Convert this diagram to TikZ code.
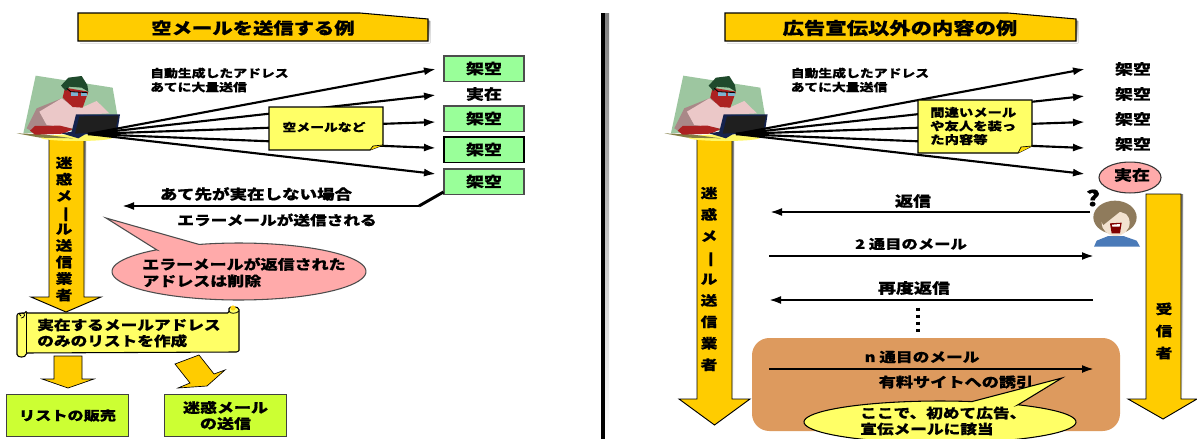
\documentclass[tikz,border=0pt]{standalone}
\usepackage{graphicx}
\usepackage{fontspec}
\setmainfont{Noto Sans CJK JP}[FakeStretch=1.25,BoldFeatures={FakeBold=0.5}]
\usetikzlibrary{arrows.meta}
\definecolor{gold}{HTML}{FFCC00}
\definecolor{shade}{HTML}{8A8A8A}
\definecolor{noteY}{HTML}{FFFF66}
\definecolor{pinkC}{HTML}{FFAAAA}
\definecolor{mintC}{HTML}{99FF99}
\definecolor{limeC}{HTML}{CCFF33}
\definecolor{brownC}{HTML}{DD9A5E}
\definecolor{personG}{HTML}{9DC6A0}
\definecolor{personD}{HTML}{A98888}
\definecolor{personP}{HTML}{EBC8C8}
\definecolor{personR}{HTML}{AC2222}
\definecolor{personH}{HTML}{1F4A2C}
\definecolor{personB}{HTML}{7FB2D0}
\definecolor{personN}{HTML}{14224E}
\definecolor{hairC}{HTML}{8F7B5C}
\definecolor{skinC}{HTML}{F2E2D0}
\definecolor{shirtC}{HTML}{4A7AB8}
\newcommand{\sz}[2][1.1]{\fontsize{#2pt}{#1\dimexpr #2pt\relax}\selectfont\bfseries}
\newcommand{\szl}[2]{\fontsize{#1pt}{#2pt}\selectfont\bfseries\lineskiplimit=-100pt}
\newcommand{\barV}{\rotatebox[origin=c]{-90}{ー}}
\newcommand{\drawperson}[1]{%
\begin{scope}[shift={#1},x=0.25pt,y=-0.25pt]
 \fill[personG] (77,32)--(308,68)--(322,150)--(320,190)--(40,205)--cycle;
 \fill[yellow!60!white] (200,218) ellipse [x radius=27pt,y radius=2.5pt];
 \fill[olive!60!black!80] (20,205)--(100,208)--(190,220)--(90,218)--cycle;
 \fill[personD] (50,190)--(80,130)--(155,100)--(190,120)--(170,190)--(75,205)--cycle;
 \fill[personP] (88,140)--(155,100)--(185,122)--(215,128)--(260,108)--(298,145)--(205,150)--(190,190)--(110,180)--cycle;
 \fill[personR] (60,197)--(75,183)--(150,182)--(190,192)--(160,206)--(75,209)--cycle;
 \fill[personR] (165,68)--(235,80)--(228,100)--(218,128)--(188,126)--(158,98)--cycle;
 \fill[personH] (153,62)--(175,38)--(215,33)--(232,60)--(235,80)--(215,68)--(178,65)--(168,78)--cycle;
 \fill[personB] (182,80) rectangle (205,92);
 \fill[personB] (212,82) rectangle (232,92);
 \draw[black,line width=.6pt] (170,70)--(182,80)--(232,83);
 \fill[personN] (155,205)--(185,200)--(198,148)--(330,148)--(322,200)--(225,208)--(205,220)--cycle;
 \fill[black!88] (208,154)--(325,152)--(316,197)--(230,204)--(195,206)--cycle;
\end{scope}}
\tikzset{
  outl/.style={draw=black,line width=.8pt},
  arrowfill/.style={fill=gold,draw=black,line width=.7pt},
  mail/.style={line width=1.6pt,-{Latex[length=9pt,width=6pt]}},
  lab/.style={inner sep=0pt,text=black},
  fakebox/.style={draw=black!70,line width=.8pt,fill=mintC,minimum width=60pt,minimum height=18.8pt,inner sep=0pt,font=\sz{10.8}},
  salebox/.style={draw=black!75,line width=.9pt,fill=limeC,minimum width=92pt,minimum height=32pt,inner sep=0pt,align=center},
  vert/.style={inner sep=0pt,align=center},
  leftlab/.style={lab,anchor=west,align=left},
}
\begin{document}
\begin{tikzpicture}[x=0.75pt,y=-0.75pt]
\useasboundingbox (0,0) rectangle (1197,439);
\clip (0,0) rectangle (1197,439);
\fill[white] (0,0) rectangle (1197,439);
% divider
\fill[black] (601,13) rectangle (605,439);
\fill[shade] (605,13) rectangle (609,439);
% titles
\fill[shade] (80,15)--(362,15)--(430,21)--(430,43)--(80,43)--cycle;
\draw[outl,fill=gold] (78,13)--(360,13)--(428,19)--(428,41)--(78,41)--cycle;
\node[lab,font=\sz{12.2}] (t1) at (253,28) {空メールを送信する例};
\fill[shade] (727,15)--(1010,15)--(1078,21)--(1078,43)--(727,43)--cycle;
\draw[outl,fill=gold] (725,13)--(1008,13)--(1076,19)--(1076,41)--(725,41)--cycle;
\node[lab,font=\sz{12.8}] (t2) at (900,28) {広告宣伝以外の内容の例};
% big arrows
\fill[shade] (51,139)--(86,139)--(86,299)--(51,299)--cycle;
\draw[arrowfill] (49,139)--(84,139)--(84,297)--(101,297)--(66,312)--(31,297)--(49,297)--cycle;
\fill[shade] (732,139) rectangle (734,399);
\draw[arrowfill] (697,139)--(732,139)--(732,399)--(750,399)--(714.5,425)--(679,399)--(697,399)--cycle;
\fill[shade] (1181,194) rectangle (1183,399);
\draw[arrowfill] (1146,194)--(1181,194)--(1181,399)--(1197,399)--(1163,419)--(1128,399)--(1146,399)--cycle;
% persons
\drawperson{(10,65)}
\drawperson{(657.6,65)}
\node[vert,font=\szl{10}{12.4}] (v1) at (64,229) {迷\\惑\\メ\\\barV\\ル\\送\\信\\業\\者};
\node[vert,font=\szl{10}{16.1}] (v2) at (709,279) {迷\\惑\\メ\\\barV\\ル\\送\\信\\業\\者};
\node[vert,font=\szl{10}{16.5}] (v3) at (1164,331) {受\\信\\者};
% left targets
\coordinate (o1) at (88,134);
\coordinate (l1) at (436,69);
\coordinate (l2) at (436,95);
\coordinate (l3) at (436,122);
\coordinate (l4) at (436,148);
\coordinate (l5) at (436,174);
\foreach \t in {l1,l2,l3,l4,l5} \draw[mail] (o1)--(\t);
\node[fakebox] (b1) at (484,68.5) {架空};
\node[lab,font=\sz{10.8}] (b2) at (484,94) {実在};
\node[fakebox] (b3) at (484,118.5) {架空};
\node[fakebox,draw=black] (b4) at (484,149.5) {架空};
\node[fakebox] (b5) at (484,181.5) {架空};
% note left
\draw[outl,fill=noteY] (269,107)--(383,107)--(383,145)--(370,150)--(269,150)--cycle;
\fill[gold!70!yellow] (383,145)--(373,146)--(370,150)--cycle;
\draw[black,line width=.5pt] (383,145)--(373,146)--(370,150);
\node[lab,font=\sz{8.3}] (n1) at (324,127) {空メールなど};
\node[leftlab,font=\szl{8.3}{10.5}] (a1) at (150,80) {自動生成したアドレス\\あてに大量送信};
% error arrow
\coordinate (etip) at (122,206);
\coordinate (ebend) at (419,206);
\draw[line width=2.2pt] (b5.west|-0,192)--(ebend);
\draw[mail] (ebend)--(etip);
\node[lab,font=\sz{10.5}] (e1) at (256,194) {あて先が実在しない場合};
\node[lab,font=\sz{10}] (e2) at (277,220) {エラーメールが送信される};
% pink callout
\draw[outl,draw=black!70,fill=pinkC] (106,218)--(157,250)
  -- plot[domain=-130.6:-468.3,samples=80] ({239+127*cos(\x)},{271.5+28.5*sin(\x)})--cycle;
\node[leftlab,font=\szl{10.2}{12.5}] (c1) at (142,272.5) {エラーメールが返信された\\アドレスは削除};
% scroll
\draw[outl,fill=noteY,rounded corners=1pt] (26,313)--(229,313)--(229,310)
  .. controls (229,306) and (239,306) .. (239,311)--(239,349)
  .. controls (239,351) and (237,352) .. (235,352)--(26,353)
  .. controls (26,358) and (17,358) .. (17,353)--(17,317)
  .. controls (17,313) and (20,313) .. (26,313)--cycle;
\draw[black,line width=.6pt] (26,313)--(26,353);
\draw[black,line width=.6pt] (21,318) .. controls (25,318) and (26,313) .. (22,313) .. controls (19,313) and (19,316) .. (21,316);
\draw[black,line width=.6pt] (229,311) .. controls (229,314) and (237,314) .. (239,311);
\fill[gold!80!noteY] (233,308) circle (2.6);
\node[leftlab,font=\szl{10}{12}] (s1) at (37,333) {実在するメールアドレス\\のみのリストを作成};
% small arrows
\draw[arrowfill,line width=.5pt] (54,356)--(82,356)--(82,379)--(94,379)--(68,388)--(42,379)--(54,379)--cycle;
\draw[arrowfill,line width=.5pt] (175,364)--(199,355)--(214,374)--(225,370)--(207,386)--(178,388)--(190,383)--cycle;
\node[salebox,font=\sz{9.7}] (p1) at (67.5,415.5) {リストの販売};
\node[salebox,font=\szl{10.2}{12}] (p2) at (225.5,415.5) {迷惑メール\\の送信};
% right side
\fill[brownC,rounded corners=13pt] (752,338) rectangle (1120,431);
\coordinate (o2) at (736,134);
\coordinate (r1) at (1085,69);
\coordinate (r2) at (1085,96);
\coordinate (r3) at (1085,122);
\coordinate (r4) at (1085,148);
\coordinate (r5) at (1085,174);
\foreach \t in {r1,r2,r3,r4,r5} \draw[mail] (o2)--(\t);
\node[lab,font=\sz{10.8}] (k1) at (1133,69) {架空};
\node[lab,font=\sz{10.8}] (k2) at (1133,94) {架空};
\node[lab,font=\sz{10.8}] (k3) at (1133,119) {架空};
\node[lab,font=\sz{10.8}] (k4) at (1133,144) {架空};
\draw[outl,draw=black!80,fill=pinkC] (1130,177.5) ellipse [x radius=23.25pt,y radius=11.6pt];
\node[lab,font=\sz{10.8}] (k5) at (1132,175) {実在};
\draw[outl,fill=noteY] (918,100)--(1032,100)--(1032,146)--(1018,153)--(918,153)--cycle;
\fill[gold!70!yellow] (1032,146)--(1021,147)--(1018,153)--cycle;
\draw[black,line width=.5pt] (1032,146)--(1021,147)--(1018,153);
\node[leftlab,font=\szl{8.6}{10.2}] (n2) at (930,126) {間違いメール\\や友人を装っ\\た内容等};
\node[leftlab,font=\szl{8.3}{10.5}] (a2) at (790.5,80) {自動生成したアドレス\\あてに大量送信};
% face
\begin{scope}[shift={(1070,180)},x=0.25pt,y=-0.25pt]
 \fill[shirtC] (72,200)--(80,182)--(115,168)--(160,168)--(200,182)--(210,200)--cycle;
 \fill[hairC] (135,112) ellipse [x radius=65*.25pt,y radius=50*.25pt];
 \fill[skinC] (137,128) ellipse [x radius=42*.25pt,y radius=40*.25pt];
 \fill[hairC] (80,100)--(120,78)--(170,85)--(190,110)--(150,95)--(125,115)--(100,135)--cycle;
 \fill[red!50!black] (120,130)--(155,128)--(150,160)--(125,160)--cycle;
 \fill[white] (126,134)--(150,132)--(149,140)--(127,140)--cycle;
\end{scope}
\coordinate (h1) at (1090,212);
\coordinate (h2) at (770,212);
\node[lab,font=\szl{16}{16}] (q) at (1093,198) {?};
\draw[mail] (h1)--(h2);
\node[lab,font=\sz{10.8}] (x1) at (913,201) {返信};
\coordinate (s2a) at (769,256);
\coordinate (s2b) at (1094,256);
\draw[mail] (s2a)--(s2b);
\node[lab,font=\sz{9.8}] (x2) at (911,244) {2 通目のメール};
\coordinate (s3a) at (1093,300);
\coordinate (s3b) at (769,300);
\draw[mail] (s3a)--(s3b);
\node[lab,font=\sz{10.8}] (x3) at (914,288) {再度返信};
\draw[line width=2.6pt,dash pattern=on 2.6pt off 2.7pt] (918,307.5)--(918,332);
\coordinate (s4a) at (769,369);
\coordinate (s4b) at (1094,369);
\draw[mail] (s4a)--(s4b);
\node[lab,font=\sz{10}] (x4) at (922,357) {n 通目のメール};
\node[lab,font=\sz{10.3}] (x5) at (956,382) {有料サイトへの誘引};
\draw[outl,fill=noteY] (1062,378)--(1018,404.8)
  -- plot[domain=-55:283.6,samples=80] ({940+136*cos(\x)},{422+21*sin(\x)})--cycle;
\node[leftlab,font=\szl{10}{12}] (y1) at (860,421) {ここで、初めて広告、\\宣伝メールに該当};
\end{tikzpicture}
\end{document}
